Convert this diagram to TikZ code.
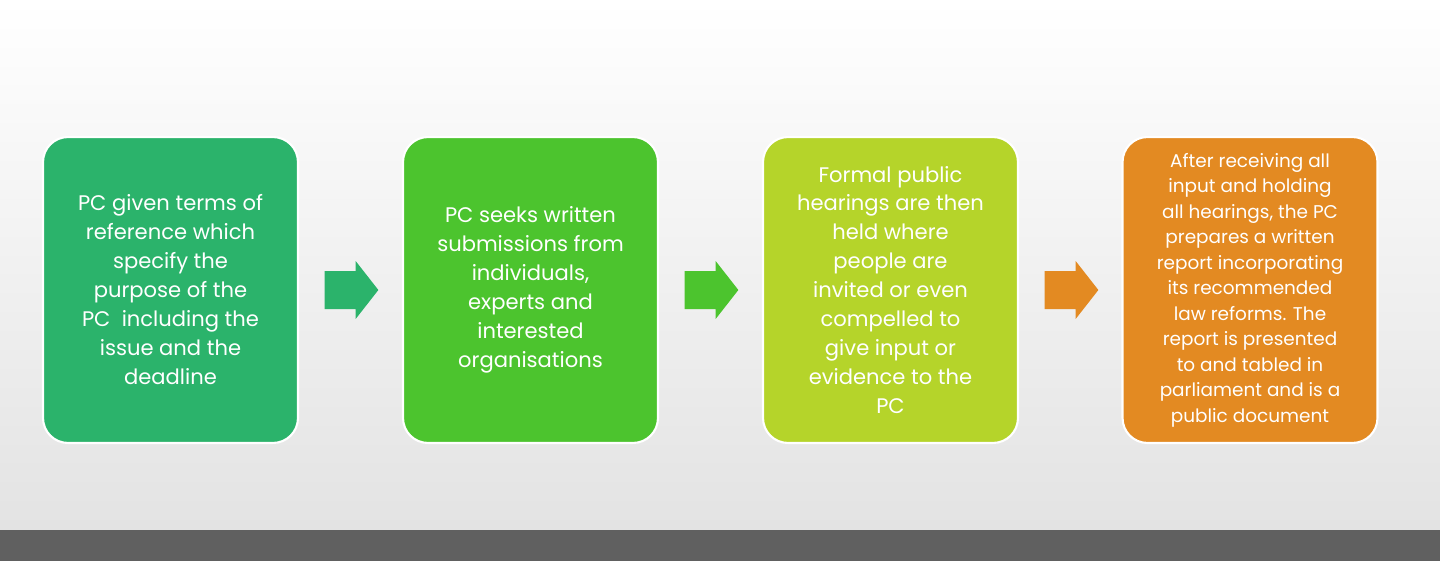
\documentclass[tikz,border=0pt]{standalone}
\usepackage{fontspec}
\setmainfont{Poppins}
\definecolor{cA}{HTML}{2BB36B}
\definecolor{cB}{HTML}{4CC42E}
\definecolor{cC}{HTML}{B5D42A}
\definecolor{cD}{HTML}{E38A22}
\tikzset{
 box/.style={draw=white,line width=1.2pt,rounded corners=0.5cm,minimum width=5.1cm,minimum height=6.12cm,align=center,text=white,inner sep=0pt,font=\fontsize{12}{16.5}\selectfont},
 arr/.style={minimum width=1.06cm,minimum height=1.16cm,inner sep=0pt}
}
\newcommand{\arrowshape}[2]{%
 \fill[#2] ($(#1.west)+(0,-0.38cm)$) -- ($(#1.west)+(0.62cm,-0.38cm)$) -- ($(#1.west)+(0.62cm,-0.58cm)$) -- (#1.east) -- ($(#1.west)+(0.62cm,0.58cm)$) -- ($(#1.west)+(0.62cm,0.38cm)$) -- ($(#1.west)+(0,0.38cm)$) -- cycle;}
\usetikzlibrary{calc}
\begin{document}
\begin{tikzpicture}[x=0.02cm,y=-0.02cm]
\useasboundingbox (0,0) rectangle (1440,561);
\shade[top color=white,bottom color=gray!22] (0,0) rectangle (1440,530);
\fill[gray!75!black] (0,530) rectangle (1440,561);
\node[box,fill=cA] (b1) at (170.5,290) {PC given terms of\\reference which\\specify the\\purpose of the\\PC\ \ including the\\issue and the\\deadline};
\node[box,fill=cB] (b2) at (530.5,290) {PC seeks written\\submissions from\\individuals,\\experts and\\interested\\organisations};
\node[box,fill=cC] (b3) at (890.5,290) {Formal public\\hearings are then\\held where\\people are\\invited or even\\compelled to\\give input or\\evidence to the\\PC};
\node[box,fill=cD,font=\fontsize{10.5}{14.5}\selectfont] (b4) at (1250,290) {After receiving all\\input and holding\\all hearings, the PC\\prepares a written\\report incorporating\\its recommended\\law reforms. The\\report is presented\\to and tabled in\\parliament and is a\\public document};
\node[arr] (a1) at (351.5,290) {};
\node[arr] (a2) at (711.5,290) {};
\node[arr] (a3) at (1071.5,290) {};
\arrowshape{a1}{cA}
\arrowshape{a2}{cB}
\arrowshape{a3}{cD}
\end{tikzpicture}
\end{document}
